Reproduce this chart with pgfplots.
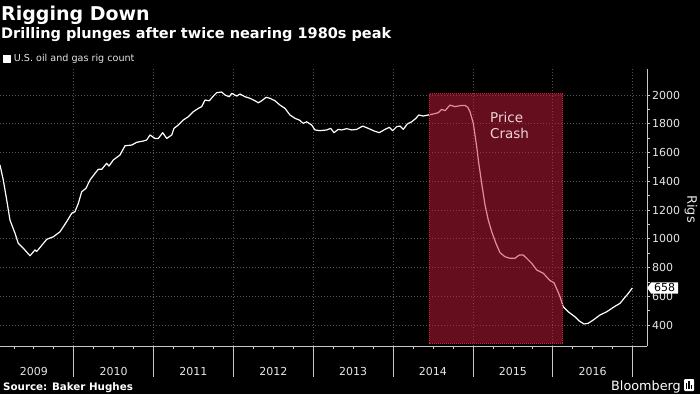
\documentclass[border=0pt]{standalone}
\usepackage{pgfplots}
\pgfplotsset{compat=1.18}
\usepackage{fontspec}
\setmainfont{DejaVu Sans}
\usetikzlibrary{shapes.symbols}
\definecolor{gridc}{HTML}{555555}
\definecolor{axc}{HTML}{C8C8C8}
\definecolor{tickc}{HTML}{E6E6E6}
\definecolor{crash}{RGB}{200,28,60}
\definecolor{crashedge}{RGB}{215,25,50}
\definecolor{crashtext}{RGB}{240,212,218}
\begin{document}
\begin{tikzpicture}[x=1pt,y=1pt]
\useasboundingbox (0,0) rectangle (700,394);
\fill[black] (0,0) rectangle (700,394);
\node[anchor=base west, inner sep=0pt, text=white, font=\bfseries\fontsize{19}{21}\selectfont] at (1,373.3) {Rigging Down};
\node[anchor=base west, inner sep=0pt, text=white, font=\bfseries\fontsize{14.5}{16}\selectfont] at (1,355) {Drilling plunges after twice nearing 1980s peak};
\begin{axis}[
  at={(0pt,48pt)}, anchor=south west,
  scale only axis, width=647pt, height=277pt,
  xmin=2009.077, xmax=2017.181, ymin=254, ymax=2181,
  clip=false,
  axis x line*=bottom, axis y line*=right,
  axis line style={axc, line width=0.8pt},
  xtick={2010,...,2017}, xticklabels={},
  minor xtick={2009.25,2009.5,...,2017},
  ytick={400,600,...,2000}, minor y tick num=1,
  tick align=outside,
  major tick length=3pt, minor tick length=3pt,
  tick style={axc, line width=0.6pt},
  grid=major,
  major grid style={gridc, line width=0.6pt, dash pattern=on 1pt off 2pt},
  /pgf/number format/assume math mode=true,
  /pgf/number format/set thousands separator={},
  yticklabel style={text=tickc, font=\fontsize{11}{12}\selectfont, inner sep=2pt},
  extra x ticks={2009.5,2010.5,2011.5,2012.5,2013.5,2014.5,2015.5,2016.5},
  extra x tick labels={2009,2010,2011,2012,2013,2014,2015,2016},
  extra x tick style={tick style={draw=none}, grid=none,
    xticklabel style={anchor=base, yshift=-26pt, text=tickc, font=\fontsize{11}{12}\selectfont}},
  legend style={at={(axis description cs:0,1)}, anchor=west, xshift=3pt, yshift=10pt,
    draw=none, fill=none, text=tickc, font=\fontsize{9.6}{11}\selectfont, inner sep=0pt,
    nodes={inner sep=1pt}},
  legend image code/.code={\fill[white] (0pt,-3.3pt) rectangle (6.6pt,3.3pt); \path (8.5pt,0pt);},
]
\addplot[white, line width=1.2pt, line join=round] coordinates {
(2009.077,1513) (2009.118,1409) (2009.161,1270) (2009.202,1130) (2009.265,1038)
(2009.306,968) (2009.369,934) (2009.453,882) (2009.515,922) (2009.535,912)
(2009.557,925) (2009.662,996) (2009.745,1014) (2009.829,1049) (2009.912,1119)
(2009.975,1177) (2010.016,1189) (2010.058,1246) (2010.100,1327) (2010.154,1351)
(2010.204,1409) (2010.267,1455) (2010.308,1483) (2010.351,1483) (2010.413,1525)
(2010.442,1506) (2010.496,1548) (2010.580,1583) (2010.643,1647) (2010.727,1652)
(2010.789,1671) (2010.872,1680) (2010.914,1687) (2010.956,1722) (2011.018,1698)
(2011.060,1698) (2011.115,1738) (2011.165,1698) (2011.228,1722) (2011.256,1768)
(2011.310,1791) (2011.373,1826) (2011.435,1849) (2011.498,1884) (2011.561,1907)
(2011.603,1919) (2011.645,1965) (2011.699,1960) (2011.749,1993) (2011.791,2016)
(2011.854,2021) (2011.895,2000) (2011.949,1988) (2011.979,2012) (2012.042,1993)
(2012.083,2007) (2012.146,1988) (2012.208,1977) (2012.271,1960) (2012.312,1946)
(2012.355,1960) (2012.409,1984) (2012.459,1977) (2012.521,1960) (2012.584,1930)
(2012.647,1907) (2012.709,1861) (2012.772,1838) (2012.826,1826) (2012.876,1803)
(2012.918,1814) (2012.981,1791) (2013.022,1757) (2013.085,1752) (2013.169,1757)
(2013.219,1768) (2013.260,1738) (2013.314,1761) (2013.357,1757) (2013.419,1766)
(2013.482,1757) (2013.545,1761) (2013.620,1784) (2013.690,1768) (2013.753,1752)
(2013.828,1738) (2013.899,1761) (2013.953,1775) (2013.996,1752) (2014.046,1780)
(2014.087,1784) (2014.128,1761) (2014.178,1798) (2014.234,1814) (2014.287,1838)
(2014.321,1861) (2014.379,1854) (2014.441,1861) (2014.504,1868) (2014.567,1877)
(2014.609,1900) (2014.651,1891) (2014.713,1930) (2014.776,1919) (2014.839,1926)
(2014.901,1928) (2014.935,1915) (2014.964,1884) (2015.005,1803) (2015.048,1640)
(2015.068,1548) (2015.110,1386) (2015.152,1235) (2015.193,1130) (2015.236,1049)
(2015.289,968) (2015.340,903) (2015.402,875) (2015.465,864) (2015.527,864)
(2015.581,887) (2015.631,887) (2015.674,864) (2015.737,829) (2015.799,783)
(2015.882,760) (2015.966,709) (2016.016,694) (2016.057,643) (2016.091,597)
(2016.132,527) (2016.195,492) (2016.279,457) (2016.333,428) (2016.392,407)
(2016.445,412) (2016.508,435) (2016.592,470) (2016.676,492) (2016.759,523)
(2016.843,551) (2016.905,593) (2016.947,620) (2016.997,658)
};
\addlegendentry{U.S. oil and gas rig count}
\addplot[draw=crashedge, line width=0.6pt, dash pattern=on 1pt off 1pt, fill=crash, fill opacity=0.5, forget plot] coordinates {
(2014.454,273) (2014.454,2010) (2016.125,2010) (2016.125,273) (2014.454,273)
};
\node[anchor=base west, inner sep=0pt, text=crashtext, font=\fontsize{13.5}{15}\selectfont] at (axis cs:2015.214,1807) {Price};
\node[anchor=base west, inner sep=0pt, text=crashtext, font=\fontsize{13.5}{15}\selectfont] at (axis cs:2015.214,1699) {Crash};
\pgfplotsinvokeforeach{2010,...,2017}{
  \draw[axc, line width=0.5pt] (axis cs:#1,254) -- ++(0pt,-31pt);
}
\node[signal, signal to=west, signal pointer angle=110, fill=white, text=black,
  inner xsep=3pt, inner ysep=1.5pt, anchor=west, font=\fontsize{11}{12}\selectfont]
  at (axis cs:2017.181,658) {658};
\end{axis}
\node[rotate=-90, text=tickc, font=\fontsize{13}{14}\selectfont] at (691,185) {Rigs};
\node[anchor=base west, inner sep=0pt, text=white, font=\bfseries\fontsize{10.3}{12}\selectfont] at (3,4) {Source: Baker Hughes};
\node[anchor=base east, inner sep=0pt, text=white, font=\fontsize{12.8}{14}\selectfont] at (681,4) {Bloomberg};
\fill[white, rounded corners=1pt] (684,3) rectangle (694,15);
\fill[black] (685.8,5) rectangle (687.2,11);
\fill[black] (688.3,5) rectangle (689.7,13);
\fill[black] (690.8,5) rectangle (692.2,9);
\end{tikzpicture}
\end{document}
